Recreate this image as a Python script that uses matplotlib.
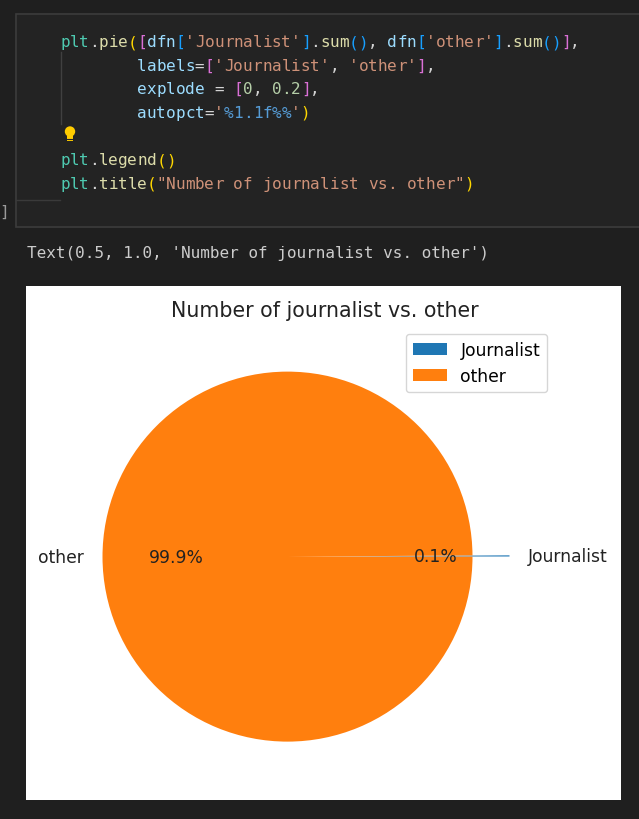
import matplotlib
matplotlib.use("Agg")
import matplotlib.pyplot as plt
from matplotlib.patches import Rectangle, Circle

# ---- data ----
pie_labels = ['Journalist', 'other']
pie_values = [0.1, 99.9]
pie_explode = [0, 0.2]
pie_colors = ['#1f77b4', '#ff7f0e']
chart_title = "Number of journalist vs. other"
output_text = "Text(0.5, 1.0, 'Number of journalist vs. other')"

W, H = 639, 820
fig = plt.figure(figsize=(W / 100, H / 100), dpi=100)
fig.patch.set_facecolor('#1f1f1f')

# background axes in pixel coordinates (y downward)
bg = fig.add_axes([0, 0, 1, 1])
bg.set_xlim(0, W)
bg.set_ylim(H, 0)
bg.axis('off')

# code cell
bg.add_patch(Rectangle((16, 15), 640, 213, facecolor='#232323', edgecolor='#3c3c3c', lw=1.2))
bg.plot([16, 60], [201, 201], color='#3a3a3a', lw=1)
bg.plot([60.5, 60.5], [53, 125], color='#404040', lw=1)
bg.text(-1, 217, ']', color='#9a9a9a', fontsize=11.5, family='DejaVu Sans Mono', va='baseline')

WH = '#d4d4d4'
TEAL = '#4ec9b0'
FN = '#dcdcaa'
VAR = '#9cdcfe'
STR = '#ce9178'
NUM = '#b5cea8'
GOLD = '#ffd700'
ORC = '#da70d6'
BLU = '#179fff'
FMT = '#569cd6'

code_lines = [
    [("plt", TEAL), (".", WH), ("pie", FN), ("(", GOLD), ("[", ORC), ("dfn", VAR), ("[", BLU),
     ("'Journalist'", STR), ("]", BLU), (".", WH), ("sum", FN), ("()", BLU), (", ", WH),
     ("dfn", VAR), ("[", BLU), ("'other'", STR), ("]", BLU), (".", WH), ("sum", FN), ("()", BLU),
     ("]", ORC), (",", WH)],
    [("        ", WH), ("labels", VAR), ("=", WH), ("[", ORC), ("'Journalist'", STR), (", ", WH),
     ("'other'", STR), ("]", ORC), (",", WH)],
    [("        ", WH), ("explode", VAR), (" = ", WH), ("[", ORC), ("0", NUM), (", ", WH), ("0.2", NUM),
     ("]", ORC), (",", WH)],
    [("        ", WH), ("autopct", VAR), ("=", WH), ("'", STR), ("%1.1f%%", FMT), ("'", STR), (")", GOLD)],
    [],
    [("plt", TEAL), (".", WH), ("legend", FN), ("()", GOLD)],
    [("plt", TEAL), (".", WH), ("title", FN), ("(", GOLD), ('"Number of journalist vs. other"', STR), (")", GOLD)],
]

x0 = 60
cw = 9.63
base0 = 47
lh = 23.6
for i, toks in enumerate(code_lines):
    col = 0
    y = base0 + i * lh
    for t, c in toks:
        for ch in t:
            if ch != ' ':
                bg.text(x0 + col * cw, y, ch, color=c, fontsize=11.5,
                        family='DejaVu Sans Mono', va='baseline', ha='left')
            col += 1

# lightbulb
bg.add_patch(Circle((70, 132.5), 5.2, facecolor='#ffcc00', edgecolor='none'))
bg.add_patch(Rectangle((67.3, 136), 5.4, 5.5, facecolor='#ffcc00', edgecolor='none'))
bg.plot([67.3, 72.7], [139.5, 139.5], color='#232323', lw=0.8)

# output text
bg.text(27, 258, output_text, color='#cccccc', fontsize=11.5, family='DejaVu Sans Mono',
        va='baseline', ha='left')

# white chart area
bg.add_patch(Rectangle((26, 287), 595, 514, facecolor='white', edgecolor='none'))

# pie axes in pixel coordinates (y upward)
ax = fig.add_axes([0, 0, 1, 1], zorder=2)
ax.patch.set_alpha(0)
R = 185
cx, cy = 324.5, H - 557.5
wedges, texts, autotexts = ax.pie(pie_values, labels=pie_labels,
                                  explode=[e * R for e in pie_explode],
                                  autopct='%1.1f%%', colors=pie_colors,
                                  center=(cx, cy), radius=R,
                                  textprops={'fontsize': 12.3, 'color': '#222222'})
texts[0].set_ha('left')
texts[1].set_ha('right')
ax.set_aspect('auto')
ax.set_xlim(0, W)
ax.set_ylim(0, H)
ax.axis('off')

leg = ax.legend(wedges, pie_labels, loc='upper right', bbox_to_anchor=(547, H - 335),
                bbox_transform=ax.transData, borderaxespad=0, fontsize=12.3)

ax.text(325, H - 317, chart_title, fontsize=14.8, ha='center', va='baseline', color='#222222')

fig.savefig('out.png', dpi=100, facecolor=fig.get_facecolor())
